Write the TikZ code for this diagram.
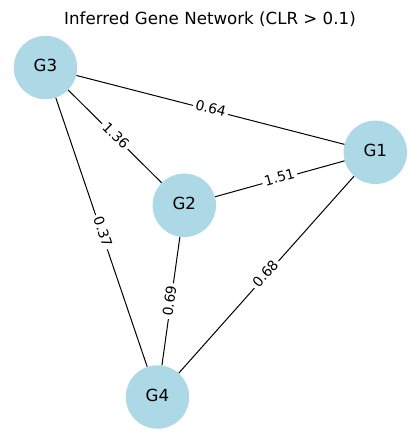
\documentclass[tikz,border=0pt]{standalone}
\usepackage{fontspec}
\setmainfont{DejaVu Sans}
\definecolor{lightblue}{HTML}{ADD8E6}
\tikzset{
  gene/.style={circle, fill=lightblue, draw=none, minimum size=63.4pt, inner sep=0pt,
    font=\fontsize{16.67pt}{20pt}\selectfont, text height=12.2pt, text depth=3.6pt},
  link/.style={draw=black, line width=1pt},
  wlabel/.style={midway, sloped, fill=white, inner sep=2.5pt, rounded corners=2pt,
    font=\fontsize{13.9pt}{16pt}\selectfont, text height=10.1pt, text depth=3pt}
}
\begin{document}
\begin{tikzpicture}[x=1pt, y=-1pt]
\useasboundingbox (0,0) rectangle (419,442);
\node[anchor=base, font=\fontsize{16.67pt}{20pt}\selectfont] (title) at (210,24) {Inferred Gene Network (CLR > 0.1)};
\node[gene] (G3) at (45.5,67.5) {G3};
\node[gene] (G1) at (375.3,152.3) {G1};
\node[gene] (G2) at (184.3,205.3) {G2};
\node[gene] (G4) at (157.5,397) {G4};
\path[link] (G3) -- node[wlabel] (l31) {0.64} (G1);
\path[link] (G3) -- node[wlabel] (l32) {1.36} (G2);
\path[link] (G2) -- node[wlabel] (l21) {1.51} (G1);
\path[link] (G3) -- node[wlabel] (l34) {0.37} (G4);
\path[link] (G2) -- node[wlabel] (l24) {0.69} (G4);
\path[link] (G1) -- node[wlabel] (l14) {0.68} (G4);
\end{tikzpicture}
\end{document}
